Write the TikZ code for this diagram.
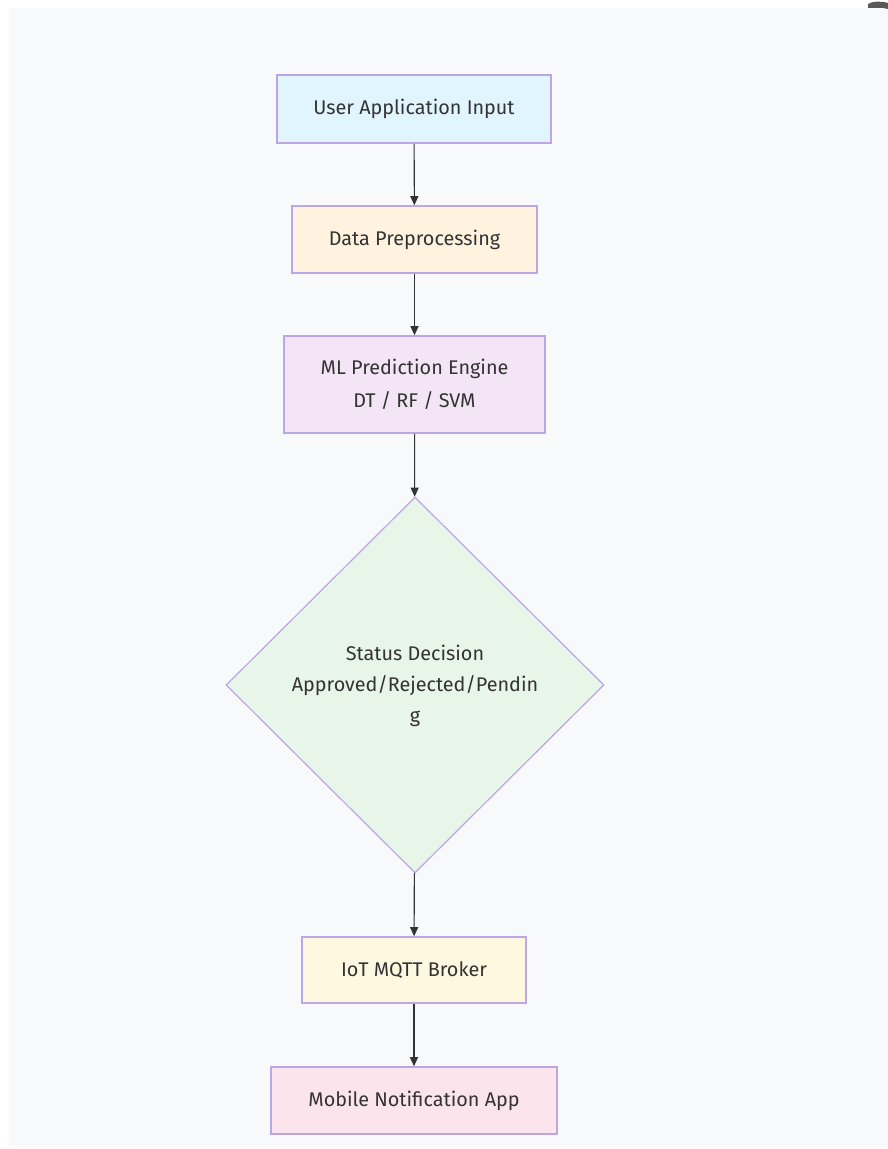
\documentclass[tikz,border=0pt]{standalone}
\usepackage{fontspec}
\setmainfont{Fira Sans}
\usetikzlibrary{shapes.geometric,arrows.meta}
\definecolor{panel}{HTML}{F8F9FB}
\definecolor{edge}{HTML}{BBA6E6}
\definecolor{ink}{HTML}{333333}
\definecolor{cA}{HTML}{E1F5FE}
\definecolor{cB}{HTML}{FFF3E0}
\definecolor{cC}{HTML}{F3E5F5}
\definecolor{cD}{HTML}{E8F5E9}
\definecolor{cE}{HTML}{FFF8E1}
\definecolor{cF}{HTML}{FCE4EC}
\tikzset{
  box/.style={draw=edge, line width=1.6pt, text=ink, font=\fontsize{19.8}{33}\selectfont, align=center, inner sep=0pt},
  conn/.style={draw=ink, line width=1.1pt, -{Triangle[length=9pt,width=8pt]}},
}
\begin{document}
\begin{tikzpicture}[x=1pt,y=-1pt]
\useasboundingbox (0,0) rectangle (888,1149);
\fill[white] (0,0) rectangle (888,1149);
\fill[panel] (9,8) rectangle (888,1147);
\fill[gray!70!black] (868,4) .. controls (872,1) and (882,1) .. (888,3) -- (888,9) .. controls (882,7) and (874,8) .. (868,8) -- cycle;
\node[box, fill=cA, minimum width=274pt, minimum height=68pt] (a) at (414,109) {User Application Input};
\node[box, fill=cB, minimum width=245pt, minimum height=67pt] (b) at (414.5,239.5) {Data Preprocessing};
\node[box, fill=cC, minimum width=261pt, minimum height=97pt] (c) at (414.5,384.5) {ML Prediction Engine\\DT / RF / SVM};
\node[box, fill=cD, diamond, aspect=1, minimum width=378pt, minimum height=376pt, line width=1.2pt] (d) at (415,685) {};
\node[text=ink, font=\fontsize{19.8}{31}\selectfont, align=center] (dt) at (415,686) {Status Decision\\Approved/Rejected/Pendin\\g};
\node[box, fill=cE, minimum width=224pt, minimum height=66pt] (e) at (414,970) {IoT MQTT Broker};
\node[box, fill=cF, minimum width=286pt, minimum height=67pt] (f) at (414,1100.5) {Mobile Notification App};
\draw[conn] (a) -- (b);
\draw[conn] (b) -- (c);
\draw[conn] (c) -- (d);
\draw[conn] (d) -- (e);
\draw[conn] (e) -- (f);
\end{tikzpicture}
\end{document}
